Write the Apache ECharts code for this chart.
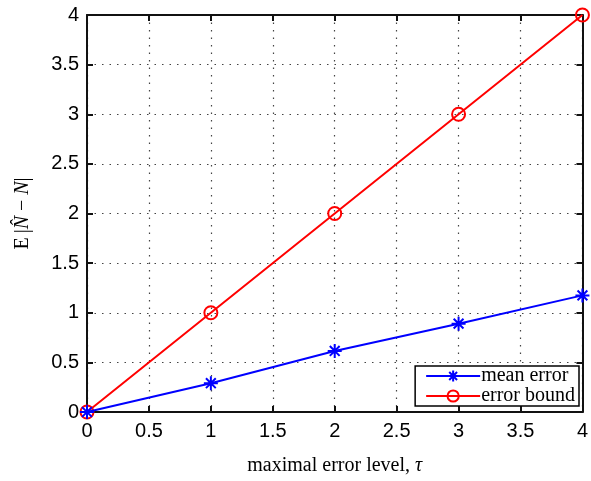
<!DOCTYPE html>
<html><head><meta charset="utf-8">
<script src="https://cdn.jsdelivr.net/npm/echarts@6/dist/echarts.min.js"></script>
<style>html,body{margin:0;padding:0;background:#fff}#c{width:591px;height:481px}</style>
</head><body><div id="c"></div>
<script>
const xValues = [0, 1, 2, 3, 4];
const meanError = [0, 0.29, 0.615, 0.89, 1.175];
const errorBound = [0, 1, 2, 3, 4];
const tickLabels = ['0','0.5','1','1.5','2','2.5','3','3.5','4'];

const chart = echarts.init(document.getElementById('c'));
const fmt = v => { const i = Math.round(v * 2); return tickLabels[i] !== undefined ? tickLabels[i] : String(v); };
const labelFont = {fontFamily:'Liberation Sans', fontSize:20, color:'#000'};
const star = 'path://M0,-10L0,10M-10,0L10,0M-7,-7L7,7M-7,7L7,-7';
const gridLine = {show:true, lineStyle:{color:'#444', type:[1.5,6], width:1.2}};
const axLine = {show:true, onZero:false, lineStyle:{color:'#111', width:2}};
const axTick = {show:true, inside:true, length:6, lineStyle:{color:'#111', width:2}};
chart.setOption({
  animation:false,
  grid:{left:87, right:4, top:15, bottom:67},
  xAxis:[{
    type:'value', min:0, max:4, interval:0.5,
    axisLine:axLine, axisTick:axTick,
    axisLabel:Object.assign({margin:9, formatter:fmt}, labelFont),
    splitLine:gridLine,
    name:'{a|maximal error level, }{b|τ}', nameLocation:'middle', nameGap:44,
    nameTextStyle:{fontFamily:'Liberation Serif', fontSize:20, color:'#000',
      rich:{a:{fontFamily:'Liberation Serif', fontSize:20, color:'#000'},
            b:{fontFamily:'Liberation Serif', fontSize:20, fontStyle:'italic', color:'#000'}}}
  },{
    type:'value', min:0, max:4, interval:0.5, position:'top',
    axisLine:axLine, axisTick:axTick,
    axisLabel:{show:false}, splitLine:{show:false}
  }],
  yAxis:[{
    type:'value', min:0, max:4, interval:0.5,
    axisLine:axLine, axisTick:axTick,
    axisLabel:Object.assign({margin:8, formatter:fmt}, labelFont),
    splitLine:gridLine,
    name:'{a|E}{b|\u2009|}{c|N\u0302}{b| \u2212 }{c|N}{b||}', nameLocation:'middle', nameGap:54,
    nameTextStyle:{fontFamily:'Liberation Serif', fontSize:20, color:'#000',
      rich:{a:{fontFamily:'Liberation Serif', fontSize:20, color:'#000'},
            b:{fontFamily:'Liberation Serif', fontSize:20, color:'#000'},
            c:{fontFamily:'Liberation Serif', fontSize:20, fontStyle:'italic', color:'#000'}}}
  },{
    type:'value', min:0, max:4, interval:0.5, position:'right',
    axisLine:axLine, axisTick:axTick,
    axisLabel:{show:false}, splitLine:{show:false}
  }],
  legend:{
    right:12, bottom:75, orient:'vertical', itemGap:0, padding:[0,4,0,10],
    borderColor:'#000', borderWidth:1.5, backgroundColor:'#fff', borderRadius:0,
    itemWidth:54, itemHeight:14,
    textStyle:{fontFamily:'Liberation Serif', fontSize:20, lineHeight:17, color:'#000', padding:[0,0,0,-4]},
    data:['mean error','error bound']
  },
  series:[{
    name:'mean error', type:'line', data:xValues.map((x,i)=>[x, meanError[i]]),
    symbol:star, symbolSize:14, showAllSymbol:true,
    lineStyle:{color:'#0000ff', width:2},
    itemStyle:{color:'#0000ff', borderColor:'#0000ff', borderWidth:2},
    z:3
  },{
    name:'error bound', type:'line', data:xValues.map((x,i)=>[x, errorBound[i]]),
    symbol:'circle', symbolSize:13,
    lineStyle:{color:'#ff0000', width:2},
    itemStyle:{color:'none', borderColor:'#ff0000', borderWidth:2},
    z:2
  }]
});
</script></body></html>
